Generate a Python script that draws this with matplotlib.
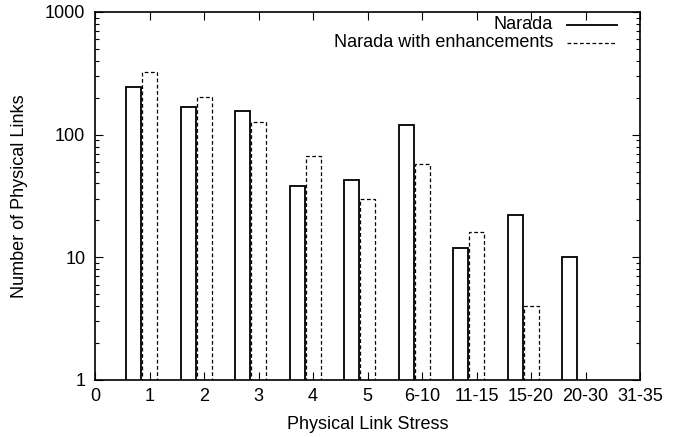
import numpy as np
import matplotlib
matplotlib.use('Agg')
from matplotlib import pyplot as plt

# x axis categories (tick labels at positions 0..10)
tick_labels = ['0', '1', '2', '3', '4', '5', '6-10', '11-15', '15-20', '20-30', '31-35']
# bars exist for categories at positions 1..9
bar_pos = [1, 2, 3, 4, 5, 6, 7, 8, 9]
narada = [243, 167, 155, 38, 43, 120, 12, 22, 10]
narada_enh = [326, 202, 127, 67, 30, 58, 16, 4, np.nan]
series_names = ['Narada', 'Narada with enhancements']

plt.rcParams['font.family'] = ['Liberation Sans', 'DejaVu Sans']
plt.rcParams['font.size'] = 13

fig = plt.figure(figsize=(6.79, 4.37), dpi=100)
ax = fig.add_axes([95 / 679, 1 - 380 / 437, 545 / 679, 368 / 437])
ax.set_yscale('log')

solid = dict(color='black', linewidth=1.3)
dashed = dict(color='black', linewidth=0.9, linestyle=(0, (3, 2)))

w = 0.28
x = np.array(bar_pos, dtype=float)
ax.bar(x - 0.29, narada, width=w, fill=False, edgecolor='black',
       linewidth=solid['linewidth'])
ax.bar(x + 0.005, narada_enh, width=w, fill=False, edgecolor='black',
       linewidth=dashed['linewidth'], linestyle=dashed['linestyle'])

ax.set_xlim(0, 10)
ax.set_ylim(1, 1000)
ax.set_xticks(range(len(tick_labels)))
ax.set_xticklabels(tick_labels)
ax.set_yticks([1, 10, 100, 1000])
ax.set_yticklabels(['1', '10', '100', '1000'])
ax.tick_params(axis='both', which='both', direction='in', top=True, right=True)
ax.tick_params(axis='both', which='major', length=6, width=0.8)
ax.tick_params(axis='x', which='major', pad=6)
ax.tick_params(axis='y', which='major', pad=7)
ax.tick_params(axis='y', which='minor', length=3, width=0.8)
for s in ax.spines.values():
    s.set_linewidth(1.2)

ax.set_xlabel('Physical Link Stress', labelpad=8)
ax.set_ylabel('Number of Physical Links', labelpad=12)

# gnuplot-style key: right-aligned text followed by a line sample
key_y = [0.9647, 0.9158]
for name, ky, style in zip(series_names, key_y, [solid, dashed]):
    ax.text(0.8404, ky, name, transform=ax.transAxes, ha='right', va='center')
    ax.plot([0.8660, 0.9578], [ky, ky], transform=ax.transAxes, **style)

fig.savefig('out.png', dpi=100)
